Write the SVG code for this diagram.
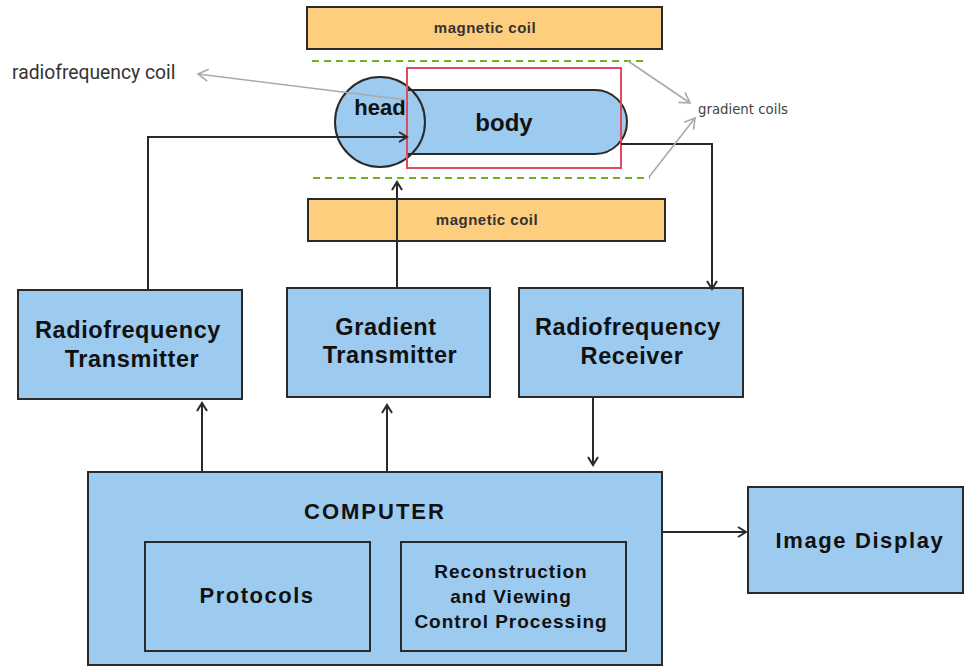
<svg xmlns="http://www.w3.org/2000/svg" width="965" height="666" viewBox="0 0 965 666">
<style>
.box{fill:#9dcaef;stroke:#2a2a2a;stroke-width:2}
.coil{fill:#fcce7e;stroke:#2a2a2a;stroke-width:2}
.t{font-family:"Liberation Sans",Arial,sans-serif;font-weight:bold;fill:#111;text-anchor:middle}
.big{font-size:23.5px;letter-spacing:0.6px}
.mc{font-size:15px;letter-spacing:0.5px;fill:#333}
.con{fill:none;stroke:#2a2a2a;stroke-width:2}
.gray{fill:none;stroke:#aaaaaa;stroke-width:1.6}
.dash{fill:none;stroke:#74b11e;stroke-width:2;stroke-dasharray:7 5}
</style>
<defs>
<marker id="ab" markerUnits="userSpaceOnUse" markerWidth="14" markerHeight="14" refX="10" refY="6" orient="auto" overflow="visible">
<path d="M2,1 L10,6 L2,11" fill="none" stroke="#2a2a2a" stroke-width="2"/>
</marker>
<marker id="ag" markerUnits="userSpaceOnUse" markerWidth="14" markerHeight="14" refX="11" refY="6" orient="auto" overflow="visible">
<path d="M1,0 L11,6 L1,12" fill="none" stroke="#aaaaaa" stroke-width="1.6"/>
</marker>
</defs>
<rect width="965" height="666" fill="#ffffff"/>

<g id="magnetic-coil-top">
<rect class="coil" x="307" y="7" width="355" height="42"/>
<text class="t mc" x="485" y="33">magnetic coil</text>
</g>
<g id="magnetic-coil-bottom">
<rect class="coil" x="308" y="199" width="357" height="42"/>
<text class="t mc" x="487" y="225">magnetic coil</text>
</g>
<g id="gradient-coil-lines">
<line class="dash" x1="312" y1="61" x2="648" y2="61"/>
<line class="dash" x1="313" y1="178" x2="650" y2="178"/>
</g>
<g id="body">
<circle cx="380" cy="122" r="45" fill="#9dcaef" stroke="none"/>
<path d="M407,90 H595 A32,32 0 0 1 595,154 H407 Z" class="box"/>
<text class="t" x="504" y="131" font-size="24">body</text>
</g>
<g id="head">
<circle cx="380" cy="122" r="45" fill="none" stroke="#2a2a2a" stroke-width="2"/>
<text class="t" x="380" y="115" font-size="22">head</text>
</g>
<g id="rf-coil">
<rect x="407" y="68" width="214" height="100" fill="none" stroke="#e04a5c" stroke-width="2"/>
</g>
<g id="label-rf-coil">
<text x="12" y="79" font-family="Roboto,'Liberation Sans',sans-serif" font-size="19.3" fill="#333">radiofrequency coil</text>
</g>
<g id="label-gradient-coils">
<text x="698" y="114" font-family="'DejaVu Sans',Verdana,sans-serif" font-size="13.3" fill="#444">gradient coils</text>
</g>

<g id="rf-transmitter">
<rect class="box" x="18" y="290" width="224" height="109"/>
<text class="t big" x="128" y="338">Radiofrequency</text>
<text class="t big" x="132" y="367">Transmitter</text>
</g>
<g id="gradient-transmitter">
<rect class="box" x="287" y="288" width="203" height="109"/>
<text class="t big" x="386" y="335">Gradient</text>
<text class="t big" x="390" y="363">Transmitter</text>
</g>
<g id="rf-receiver">
<rect class="box" x="519" y="288" width="224" height="109"/>
<text class="t big" x="628" y="335">Radiofrequency</text>
<text class="t big" x="632" y="364">Receiver</text>
</g>
<g id="computer">
<rect class="box" x="88" y="472" width="574" height="193"/>
<text class="t" x="375" y="519" font-size="22" letter-spacing="2">COMPUTER</text>
<g id="protocols">
<rect class="box" x="145" y="542" width="225" height="109"/>
<text class="t" x="257" y="603" font-size="22" letter-spacing="1.5">Protocols</text>
</g>
<g id="reconstruction">
<rect class="box" x="401" y="542" width="225" height="109"/>
<text class="t" x="511" y="578" font-size="19" letter-spacing="1">Reconstruction</text>
<text class="t" x="511" y="603" font-size="19" letter-spacing="1">and Viewing</text>
<text class="t" x="511" y="628" font-size="19" letter-spacing="1">Control Processing</text>
</g>
</g>
<g id="image-display">
<rect class="box" x="748" y="487" width="215" height="106"/>
<text class="t" x="860" y="548" font-size="22" letter-spacing="1.6">Image Display</text>
</g>

<g id="connectors">
<polyline class="con" points="148,290 148,137 407,137" marker-end="url(#ab)"/>
<line class="con" x1="397" y1="288" x2="397" y2="182" marker-end="url(#ab)"/>
<polyline class="con" points="621,144 712,144 712,289" marker-end="url(#ab)"/>
<line class="con" x1="202" y1="472" x2="202" y2="403" marker-end="url(#ab)"/>
<line class="con" x1="387" y1="472" x2="387" y2="405" marker-end="url(#ab)"/>
<line class="con" x1="593" y1="397" x2="593" y2="465" marker-end="url(#ab)"/>
<line class="con" x1="662" y1="532" x2="746" y2="532" marker-end="url(#ab)"/>
<line class="gray" x1="407" y1="100" x2="198" y2="74" marker-end="url(#ag)"/>
<line class="gray" x1="628" y1="61" x2="690" y2="103" marker-end="url(#ag)"/>
<line class="gray" x1="649" y1="177" x2="695" y2="118" marker-end="url(#ag)"/>
</g>
</svg>
